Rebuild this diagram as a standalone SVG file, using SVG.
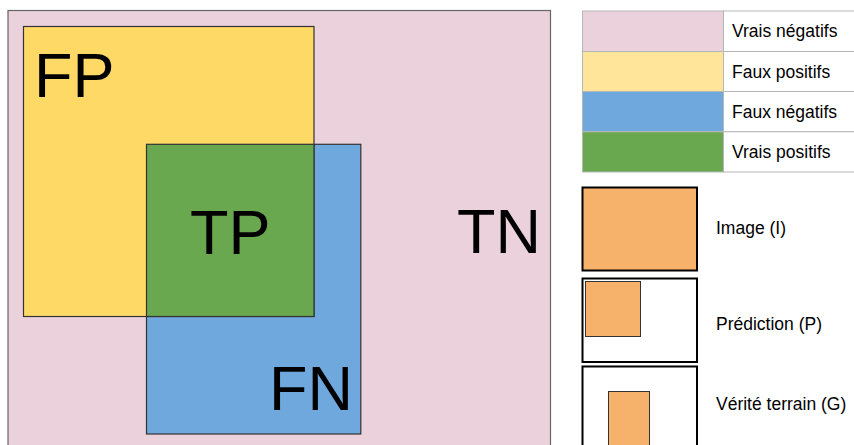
<svg xmlns="http://www.w3.org/2000/svg" width="854" height="445" viewBox="0 0 854 445">
<style>
.big{font-family:"Liberation Sans",Arial,sans-serif;font-size:63px;fill:#000}
.lbl{font-family:"Liberation Sans",Arial,sans-serif;font-size:17.5px;fill:#000}
.reg{stroke:#333;stroke-width:1.2}
.cell{stroke:#b7b7b7;stroke-width:1}
.box{fill:#fff;stroke:#000;stroke-width:2}
.org{fill:#f6b26b;stroke:#333;stroke-width:1}
</style>
<rect width="854" height="445" fill="#fff"/>
<g id="tn">
<rect x="8" y="10.5" width="542.5" height="450" fill="#ead1dc" stroke="#666" stroke-width="1.2"/>
<text class="big" x="457" y="253">TN</text>
</g>
<g id="fn">
<rect class="reg" x="146.5" y="144.3" width="214.3" height="289.7" fill="#6fa8dc"/>
<text class="big" x="269" y="410">FN</text>
</g>
<g id="fp">
<rect class="reg" x="23.5" y="26.5" width="290.5" height="290" fill="#ffd966"/>
<text class="big" x="34" y="97">FP</text>
</g>
<g id="tp">
<rect class="reg" x="146.5" y="144.3" width="167.5" height="172.2" fill="#6aa84f"/>
<text class="big" x="190" y="254">TP</text>
</g>
<g id="legend-table">
<rect class="cell" x="582.5" y="11" width="141" height="40.5" fill="#ead1dc"/>
<rect class="cell" x="723.5" y="11" width="140" height="40.5" fill="#fff"/>
<text class="lbl" x="732" y="37">Vrais négatifs</text>
<rect class="cell" x="582.5" y="51.5" width="141" height="40" fill="#ffe599"/>
<rect class="cell" x="723.5" y="51.5" width="140" height="40" fill="#fff"/>
<text class="lbl" x="732" y="77.5">Faux positifs</text>
<rect class="cell" x="582.5" y="91.5" width="141" height="40.3" fill="#6fa8dc"/>
<rect class="cell" x="723.5" y="91.5" width="140" height="40.3" fill="#fff"/>
<text class="lbl" x="732" y="117.5">Faux négatifs</text>
<rect class="cell" x="582.5" y="131.8" width="141" height="40.2" fill="#6aa84f"/>
<rect class="cell" x="723.5" y="131.8" width="140" height="40.2" fill="#fff"/>
<text class="lbl" x="732" y="158">Vrais positifs</text>
</g>
<g id="legend-image">
<rect x="582.5" y="187.5" width="114.5" height="83" fill="#f6b26b" stroke="#000" stroke-width="2"/>
<text class="lbl" x="716" y="233.5">Image (I)</text>
</g>
<g id="legend-prediction">
<rect class="box" x="582.5" y="278.5" width="114.5" height="83.5"/>
<rect class="org" x="585.5" y="281.5" width="55" height="55"/>
<text class="lbl" x="716" y="330">Prédiction (P)</text>
</g>
<g id="legend-gt">
<rect class="box" x="582.5" y="366.5" width="114.5" height="100"/>
<rect class="org" x="608.5" y="391.5" width="41" height="70"/>
<text class="lbl" x="716" y="410">Vérité terrain (G)</text>
</g>
<g id="connectors"></g>
</svg>
